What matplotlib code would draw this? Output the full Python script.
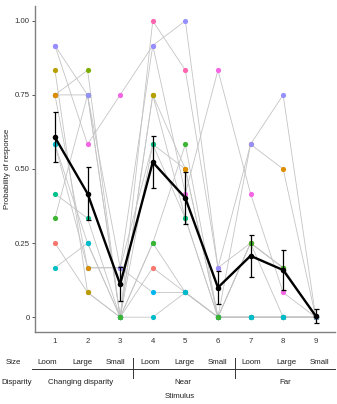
import matplotlib
matplotlib.use("Agg")
import matplotlib.pyplot as plt
import numpy as np
from matplotlib.lines import Line2D

plt.rcParams['font.family'] = ['Liberation Sans', 'DejaVu Sans']

stimuli = [1, 2, 3, 4, 5, 6, 7, 8, 9]
yticks = [0, 0.25, 0.5, 0.75, 1.0]
ytick_labels = ["0", "0.25", "0.50", "0.75", "1.00"]

# individual subjects, number of responses out of 12 trials (drawing order)
subj_colors = ["#FF64B0", "#F564E3", "#F8766D", "#7CAE00", "#B79F00", "#00B4F0",
               "#00BFC4", "#DE8C00", "#00C08B", "#00BCCB", "#3DB532", "#9590FF"]
subj_counts = [
    [9, 9, 0, 12, 10, 2, 3, 0, 0],   # pink
    [11, 7, 9, 11, 5, 10, 5, 1, 0],  # magenta
    [3, 1, 0, 2, 1, 0, 0, 0, 0],     # salmon
    [9, 10, 0, 9, 4, 0, 3, 2, 0],    # yellow-green
    [10, 1, 0, 9, 6, 0, 3, 2, 0],    # olive
    [7, 2, 2, 1, 1, 0, 0, 0, 0],     # light blue
    [2, 3, 0, 3, 1, 0, 0, 0, 0],     # cyan 2
    [9, 2, 2, 7, 6, 0, 7, 6, 0],     # orange
    [5, 4, 0, 7, 4, 0, 0, 0, 0],     # teal
    [7, 3, 0, 0, 1, 0, 0, 0, 0],     # cyan
    [4, 9, 0, 3, 7, 0, 3, 2, 0],     # green
    [11, 9, 2, 11, 12, 2, 7, 9, 0],  # lavender
]
n_trials = 12

mean_prob = [0.607, 0.417, 0.111, 0.523, 0.402, 0.100, 0.207, 0.159, 0.004]
se_prob = [0.085, 0.089, 0.057, 0.087, 0.088, 0.055, 0.07, 0.066, 0.025]

size_labels = ["Loom", "Large", "Small"] * 3
disparity_labels = ["Changing disparity", "Near", "Far"]

W, H = 337, 404
fig = plt.figure(figsize=(W / 100, H / 100), dpi=100)
ax = fig.add_axes([35.4 / W, 1 - 332 / H, (335.3 - 35.4) / W, (332 - 6) / H])

for col, counts in zip(subj_colors, subj_counts):
    p = np.array(counts) / n_trials
    ax.plot(stimuli, p, color="#C4C4C4", lw=0.6, zorder=1)
for col, counts in zip(subj_colors, subj_counts):
    p = np.array(counts) / n_trials
    ax.scatter(stimuli, p, s=14, color=col, zorder=2, linewidths=0)

ax.errorbar(stimuli, mean_prob, yerr=se_prob, color="black", lw=1.7,
            elinewidth=0.9, capsize=1.8, capthick=0.9, zorder=4)
ax.scatter(stimuli, mean_prob, s=16, color="black", zorder=5, linewidths=0)

ax.set_xlim(0.4, 9.6)
ax.set_ylim(-0.05, 1.05)
ax.set_xticks(stimuli)
ax.set_xticklabels([str(s) for s in stimuli])
ax.set_yticks(yticks)
ax.set_yticklabels(ytick_labels)
for s in ["top", "right"]:
    ax.spines[s].set_visible(False)
for s in ["left", "bottom"]:
    ax.spines[s].set_color("#808080")
    ax.spines[s].set_linewidth(1.0)
ax.tick_params(axis="y", length=2.5, width=0.7, color="#555555", labelsize=5.6,
               labelcolor="#333333", pad=1.5)
ax.tick_params(axis="x", length=0, labelsize=5.6, labelcolor="#333333", pad=4)

fs = 5.7
def ftxt(x, y, s, ha="center", **kw):
    fig.text(x / W, 1 - y / H, s, ha=ha, va="center", fontsize=fs, color="#222222", **kw)

ftxt(8, 169, "Probability of response", rotation=90)
ftxt(6, 362, "Size", ha="left")
size_x = [47, 82, 116, 150, 184, 217, 251, 286, 320]
for x, lab in zip(size_x, size_labels):
    ftxt(x, 362, lab)
ftxt(1, 383, "Disparity", ha="left")
for x, lab in zip([81, 183, 285], disparity_labels):
    ftxt(x, 383, lab)
ftxt(180, 397, "Stimulus")

fig.add_artist(Line2D([32 / W, 335 / W], [1 - 369 / H, 1 - 369 / H], color="#333333", lw=0.7))
for x in [133, 235]:
    fig.add_artist(Line2D([x / W, x / W], [1 - 358 / H, 1 - 378 / H], color="#333333", lw=0.7))

fig.savefig("out.png", dpi=100)
